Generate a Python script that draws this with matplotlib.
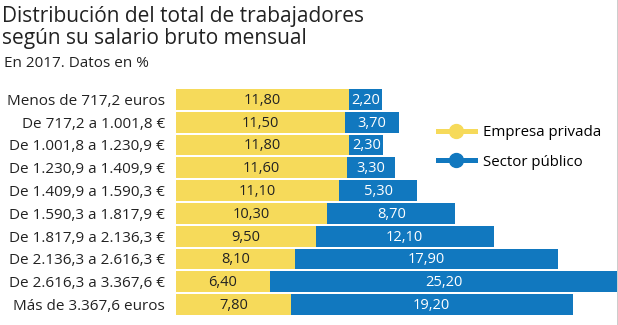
import numpy as np
import matplotlib
matplotlib.use('Agg')
import matplotlib.pyplot as plt
from matplotlib.lines import Line2D

matplotlib.rcParams['font.family'] = 'Open Sans'

# Data
tramos = ['Menos de 717,2 euros', 'De 717,2 a 1.001,8 €', 'De 1.001,8 a 1.230,9 €',
          'De 1.230,9 a 1.409,9 €', 'De 1.409,9 a 1.590,3 €', 'De 1.590,3 a 1.817,9 €',
          'De 1.817,9 a 2.136,3 €', 'De 2.136,3 a 2.616,3 €', 'De 2.616,3 a 3.367,6 €',
          'Más de 3.367,6 euros']
privada = [11.8, 11.5, 11.8, 11.6, 11.1, 10.3, 9.5, 8.1, 6.4, 7.8]
publico = [2.2, 3.7, 2.3, 3.3, 5.3, 8.7, 12.1, 17.9, 25.2, 19.2]

amarillo = '#f6da5a'
azul = '#1178bf'
texto = '#222222'

W, H = 618, 325
fig = plt.figure(figsize=(W / 100, H / 100), dpi=100)
fig.patch.set_facecolor('white')

# axes in pixel terms: left 176, right 617, top 88, bottom 316
ax = fig.add_axes([176 / W, 1 - 316 / H, (617 - 176) / W, (316 - 88) / H])
xmax = 30.0
y = np.arange(len(tramos))

ax.barh(y, privada, height=0.92, color=amarillo, edgecolor='none')
ax.barh(y, publico, left=privada, height=0.92, color=azul, edgecolor='none')

for i in range(len(tramos)):
    ax.text(privada[i] / 2, y[i] + 0.04, f'{privada[i]:.2f}'.replace('.', ','),
            ha='center', va='center', fontsize=10.5, color=texto)
    fin = min(privada[i] + publico[i], xmax)
    ax.text((privada[i] + fin) / 2, y[i] + 0.04, f'{publico[i]:.2f}'.replace('.', ','),
            ha='center', va='center', fontsize=10.5, color='white')

ax.set_xlim(0, xmax)
ax.set_ylim(len(tramos) - 0.5, -0.5)
ax.set_yticks(y)
ax.set_yticklabels(tramos, fontsize=11, color=texto)
ax.tick_params(axis='y', length=0, pad=8)
ax.set_xticks([])
for s in ax.spines.values():
    s.set_visible(False)

# Title
fig.text(2 / W, 1 - 22 / H, 'Distribución del total de trabajadores',
         ha='left', va='baseline', fontsize=15, color=texto)
fig.text(2 / W, 1 - 44 / H, 'según su salario bruto mensual',
         ha='left', va='baseline', fontsize=15, color=texto)
fig.text(4 / W, 1 - 67 / H, 'En 2017. Datos en %', ha='left', va='baseline',
         fontsize=11, color=texto)

# Legend
handles = [Line2D([], [], color=amarillo, lw=3.6, marker='o', markersize=10),
           Line2D([], [], color=azul, lw=3.6, marker='o', markersize=10)]
fig.legend(handles, ['Empresa privada', 'Sector público'], loc='upper left',
           bbox_to_anchor=(424 / W, 1 - 112 / H), frameon=False, fontsize=10.8,
           handlelength=2.5, labelspacing=0.95, handletextpad=0.55)

# right frame line
fig.add_artist(Line2D([617.5 / W, 617.5 / W], [0, 1], color='black', lw=1))

fig.savefig('out.png', dpi=100)
